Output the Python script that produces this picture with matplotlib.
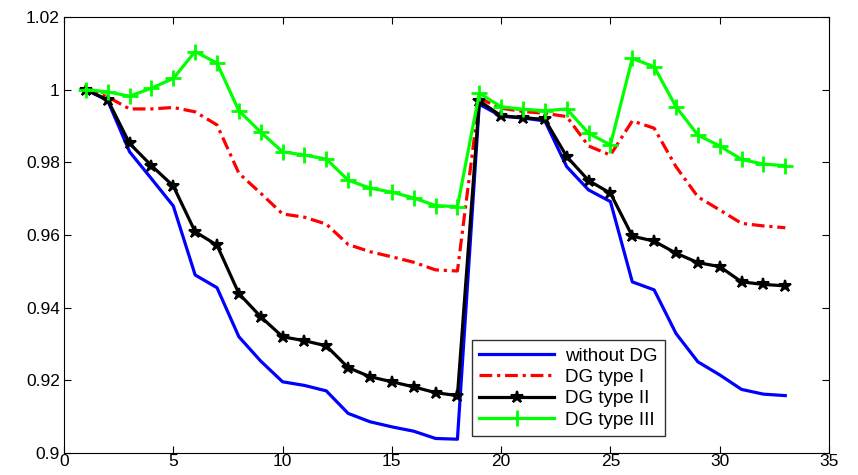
import numpy as np
import matplotlib
matplotlib.use("Agg")
import matplotlib.pyplot as plt

plt.rcParams['font.family'] = ['Liberation Sans', 'DejaVu Sans']

# bus numbers 1..33
bus = list(range(1, 34))

# voltage profile (p.u.) for each case
v_without_dg = [1.0, 0.9970, 0.9829, 0.9755, 0.9680, 0.9490, 0.9455, 0.9320, 0.9253, 0.9196,
                0.9186, 0.9171, 0.9109, 0.9086, 0.9072, 0.9060, 0.9040, 0.9038,
                0.9960, 0.9927, 0.9922, 0.9914, 0.9788, 0.9724, 0.9692, 0.9471, 0.9449,
                0.9329, 0.9251, 0.9215, 0.9175, 0.9162, 0.9158]
v_dg_type1 = [1.0, 0.9980, 0.9947, 0.9947, 0.9951, 0.9939, 0.9903, 0.9770, 0.9715, 0.9658,
              0.9649, 0.9630, 0.9574, 0.9554, 0.9540, 0.9525, 0.9504, 0.9501,
              0.9976, 0.9949, 0.9940, 0.9935, 0.9926, 0.9845, 0.9820, 0.9914, 0.9894,
              0.9788, 0.9705, 0.9669, 0.9632, 0.9625, 0.9620]
v_dg_type2 = [1.0, 0.9972, 0.9852, 0.9791, 0.9735, 0.9609, 0.9572, 0.9439, 0.9375, 0.9320,
              0.9309, 0.9295, 0.9235, 0.9210, 0.9196, 0.9182, 0.9166, 0.9158,
              0.9969, 0.9928, 0.9923, 0.9918, 0.9816, 0.9750, 0.9715, 0.9597, 0.9583,
              0.9550, 0.9524, 0.9513, 0.9471, 0.9464, 0.9460]
v_dg_type3 = [1.0, 0.9994, 0.9982, 1.0004, 1.0031, 1.0105, 1.0073, 0.9942, 0.9883, 0.9829,
              0.9820, 0.9809, 0.9751, 0.9729, 0.9718, 0.9702, 0.9681, 0.9678,
              0.9990, 0.9953, 0.9946, 0.9942, 0.9947, 0.9880, 0.9848, 1.0086, 1.0063,
              0.9953, 0.9875, 0.9845, 0.9808, 0.9795, 0.9791]

fig = plt.figure(figsize=(8.58, 4.75), dpi=100)
ax = fig.add_axes([0.0746, 0.0463, 0.8916, 0.9179])

ax.plot(bus, v_without_dg, color='#0000ff', lw=2.3, label='without DG')
ax.plot(bus, v_dg_type1, color='#ff0000', lw=2.3, ls=(0, (4, 1.5, 1, 1.5)), label='DG type I')
ax.plot(bus, v_dg_type2, color='black', lw=2.3, marker='*', ms=9, mew=1.5, label='DG type II')
ax.plot(bus, v_dg_type3, color='#00ff00', lw=2.3, marker='+', ms=11, mew=2, label='DG type III')

ax.set_xlim(0, 35)
ax.set_ylim(0.9, 1.02)
ax.set_xticks(range(0, 36, 5))
ax.set_yticks([0.9, 0.92, 0.94, 0.96, 0.98, 1.0, 1.02])
ax.set_yticklabels(['0.9', '0.92', '0.94', '0.96', '0.98', '1', '1.02'])
ax.tick_params(direction='in', top=True, right=True, labelsize=12.5, length=5, pad=3)
ax.tick_params(axis='x', pad=1)

leg = ax.legend(loc='lower left', bbox_to_anchor=(0.533, 0.039), fontsize=13.5,
                handlelength=4.0, handletextpad=0.6, frameon=True, fancybox=False,
                edgecolor='black', borderaxespad=0, labelspacing=0.22, borderpad=0.4)
leg.get_frame().set_linewidth(1.0)

fig.savefig('out.png', dpi=100)
